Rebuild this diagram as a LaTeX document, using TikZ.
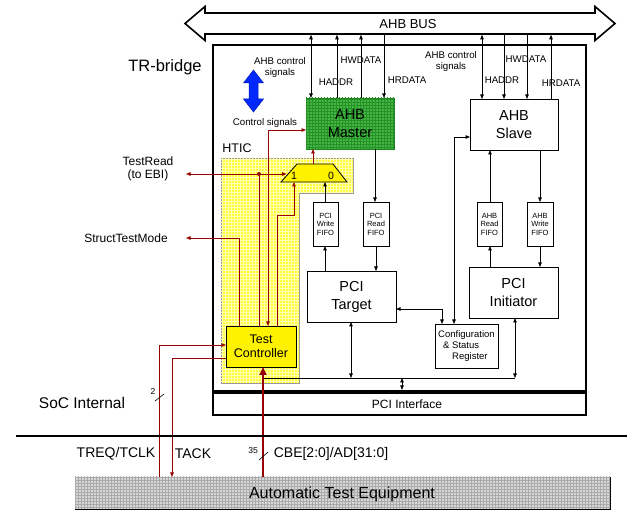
\documentclass[tikz,border=0pt]{standalone}
\usepackage{fontspec}
\setmainfont{Liberation Sans}
\usetikzlibrary{arrows.meta,patterns,calc}
\definecolor{dred}{RGB}{150,0,0}
\definecolor{mgreen}{RGB}{70,180,70}
\definecolor{mgrid}{RGB}{35,145,35}
\definecolor{mgreenD}{RGB}{30,130,30}
\definecolor{htyel}{RGB}{255,255,60}
\definecolor{htgrid}{RGB}{255,255,175}
\definecolor{ategray}{RGB}{215,215,215}
\definecolor{ategrid}{RGB}{170,170,170}
\definecolor{bluearr}{RGB}{0,40,255}
\begin{document}
\begin{tikzpicture}[x=1pt,y=-1pt,>={Triangle[length=4.5pt,width=3.5pt]},
  every node/.style={inner sep=0pt,outer sep=0pt},
  blk/.style={draw,line width=0.8pt,anchor=north west,align=center},
  bigtxt/.style={font=\fontsize{14.5}{18}\selectfont},
  fifo/.style={blk,minimum width=25,minimum height=44,font=\fontsize{7.5}{8.5}\selectfont},
  lbl/.style={font=\fontsize{9.7}{11}\selectfont,align=center},
  conn/.style={line width=0.6pt},
  rconn/.style={line width=0.8pt,draw=dred}]
\useasboundingbox (0,0) rectangle (627,510);

% AHB bus
\draw[line width=1.6pt,fill=white,line join=miter] (185,23.5) -- (205,6.5) -- (205,13) -- (595,13) -- (595,6.5) -- (615,23.5) -- (595,40.5) -- (595,34) -- (205,34) -- (205,40.5) -- cycle;
\node[font=\fontsize{13}{15}\selectfont] (busT) at (408,24) {AHB BUS};
\coordinate (busB) at (400,34.8);

% TR-bridge and PCI interface
\node[draw,line width=2.2pt,anchor=north west,minimum width=373,minimum height=346] (trb) at (213,45) {};
\node[draw,line width=2.2pt,anchor=north west,minimum width=373,minimum height=22] (pciif) at (213,393) {};
\node[font=\fontsize{12}{14}\selectfont] (pcit) at (407,404) {PCI Interface};
\node[font=\fontsize{16.5}{19}\selectfont] (trlbl) at (165,67) {TR-bridge};

% HTIC region
\draw[draw=gray!80,line width=0.7pt,fill=htyel,postaction={pattern=grid,pattern color=htgrid}]
  (221,158) -- (353,158) -- (353,193) -- (299,193) -- (299,383) -- (221,383) -- cycle;
\node[font=\fontsize{12.5}{14}\selectfont] (htic) at (237,148) {HTIC};

% blocks
\node[blk,minimum width=88,minimum height=51,draw=mgreenD,fill=mgreen,postaction={pattern=grid,pattern color=mgrid},bigtxt] (master) at (306,98) {AHB\\Master};
\node[blk,minimum width=88,minimum height=51,bigtxt] (slave) at (470,99) {AHB\\Slave};
\node[blk,minimum width=89,minimum height=51,bigtxt] (target) at (307,271) {PCI\\Target};
\node[blk,minimum width=89,minimum height=51,bigtxt] (initiator) at (469,267) {PCI\\Initiator};
\node[fifo] (pwf) at (313,202) {PCI\\Write\\FIFO};
\node[fifo,minimum width=26] (prf) at (363,202) {PCI\\Read\\FIFO};
\node[fifo] (arf) at (477,202) {AHB\\Read\\FIFO};
\node[fifo,minimum width=26] (awf) at (527,202) {AHB\\Write\\FIFO};
\node[blk,minimum width=63,minimum height=44,align=left,font=\fontsize{9.5}{11}\selectfont] (csr) at (435,324) {Configuration\\\hspace*{5pt}\& Status\\\hspace*{14pt}Register};
\node[blk,minimum width=70,minimum height=41,fill=yellow,font=\fontsize{12.5}{14}\selectfont] (tc) at (226,326) {Test\\Controller};
\node[blk,minimum width=535,minimum height=32,fill=ategray,postaction={pattern=grid,pattern color=ategrid}] (ate) at (75,477) {};
\node[font=\fontsize{16}{18}\selectfont] (atet) at (342,494) {Automatic Test Equipment};

% mux
\draw[fill=yellow,line width=0.8pt] (281,182) -- (297,164) -- (333,164) -- (347,182) -- cycle;
\coordinate (muxT) at (313,164);
\coordinate (muxB) at (313,182);
\coordinate (muxL) at (286.5,174);
\node[font=\fontsize{10.5}{12}\selectfont] (m1) at (294,176) {1};
\node[font=\fontsize{10.5}{12}\selectfont] (m0) at (331,176) {0};

% blue control arrow
\draw[fill=bluearr,draw=bluearr!70!black,line width=0.5pt] (253.5,70) -- (263.5,83) -- (258,83) -- (258,99) -- (263.5,99) -- (253.5,112) -- (243.5,99) -- (249,99) -- (249,83) -- (243.5,83) -- cycle;

% labels
\node[lbl] (acm) at (280,67) {AHB control\\signals};
\node[lbl] (cs) at (265,123) {Control signals};
\node[lbl] (hadm) at (336,82) {HADDR};
\node[lbl] (hwdm) at (361,60) {HWDATA};
\node[lbl] (hrdm) at (407,80) {HRDATA};
\node[lbl] (acs) at (451,61) {AHB control\\signals};
\node[lbl] (hads) at (502,80) {HADDR};
\node[lbl] (hwds) at (526,59) {HWDATA};
\node[lbl] (hrds) at (561,83) {HRDATA};

% black connectors
\draw[conn,<->] (311,0 |- busB) -- (311,0 |- master.north);
\draw[conn,->] (337,0 |- master.north) -- (337,0 |- busB);
\draw[conn,->] (361,0 |- master.north) -- (361,0 |- busB);
\draw[conn,->] (384,0 |- busB) -- (384,0 |- master.north);
\draw[conn,<->] (482,0 |- busB) -- (482,0 |- slave.north);
\draw[conn,->] (504,0 |- busB) -- (504,0 |- slave.north);
\draw[conn,->] (527,0 |- busB) -- (527,0 |- slave.north);
\draw[conn,->] (551,0 |- slave.north) -- (551,0 |- busB);
\draw[conn,->] (375,0 |- master.south) -- (375,0 |- prf.north);
\draw[conn,->] (325,0 |- pwf.north) -- (325,0 |- muxB);
\draw[conn,->] (325,0 |- target.north) -- (325,0 |- pwf.south);
\draw[conn,->] (376,0 |- prf.south) -- (376,0 |- target.north);
\draw[conn,->] (490,0 |- initiator.north) -- (490,0 |- arf.south);
\draw[conn,->] (490,0 |- arf.north) -- (490,0 |- slave.south);
\draw[conn,->] (540,0 |- slave.south) -- (540,0 |- awf.north);
\draw[conn,->] (540,0 |- awf.south) -- (540,0 |- initiator.north);
\draw[conn,<->] (454,0 |- csr.north) |- (slave.west |- 0,137);
\draw[conn,<->] (target.east |- 0,309) -| (442,0 |- csr.north);
\coordinate (hbL) at (263,378);
\coordinate (hbR) at (515,378);
\draw[conn] (hbL) -- (hbR);
\draw[conn,<->] (351,0 |- target.south) -- (351,0 |- hbL);
\draw[conn,<->] (515,0 |- initiator.south) -- (hbR);
\coordinate (pciTop) at ($(402,0 |- trb.south)+(0,-1.1)$);
\draw[conn,<->] (402,0 |- hbL) -- (pciTop);

% red connectors
\draw[rconn,<->] (268,0 |- tc.north) |- (master.west |- 0,130);
\draw[rconn,->] (muxT) -- (muxT |- master.south);
\coordinate (jn) at (259,174);
\coordinate (trTip) at (186,174);
\draw[rconn] (259,0 |- tc.north) -- (jn);
\draw[rconn,<->] (trTip) -- (muxL);
\fill[dred] (jn) circle (2);
\coordinate (stmTip) at (186,238);
\draw[rconn,->] (239,0 |- tc.north) |- (stmTip);
\draw[rconn,->] (277,0 |- tc.north) |- (294,215) -- (294,0 |- muxB);
\draw[rconn,->] (159,0 |- ate.north) |- (tc.west |- 0,345);
\draw[rconn,->] (tc.west |- 0,358) -| (172,0 |- ate.north);
\draw[dred,line width=2.2pt,-{Triangle[length=8pt,width=7pt]}] (263,0 |- ate.north) -- (263,0 |- tc.south);

% left side labels
\node[font=\fontsize{12}{13}\selectfont,align=center] (trd) at (148,169) {TestRead\\(to EBI)};
\node[font=\fontsize{12}{14}\selectfont] (stm) at (126,238) {StructTestMode};
\node[font=\fontsize{15.5}{18}\selectfont] (soc) at (82,403) {SoC Internal};
\coordinate (sepL) at (16,436);
\coordinate (sepR) at (627,436);
\draw[line width=1.6pt] (sepL) -- (sepR);
\node[font=\fontsize{14}{16}\selectfont] (treq) at (116,454) {TREQ/TCLK};
\node[font=\fontsize{14}{16}\selectfont] (tack) at (193,454) {TACK};
\node[font=\fontsize{14}{16}\selectfont] (cbe) at (331,454) {CBE[2:0]/AD[31:0]};
\node[font=\fontsize{8.5}{10}\selectfont] (n2) at (153,392) {2};
\draw[line width=0.6pt] (155,401) -- (164,394);
\node[font=\fontsize{8.5}{10}\selectfont] (n35) at (253,451) {35};
\draw[line width=0.6pt] (259,460) -- (268,452);
\end{tikzpicture}
\end{document}
